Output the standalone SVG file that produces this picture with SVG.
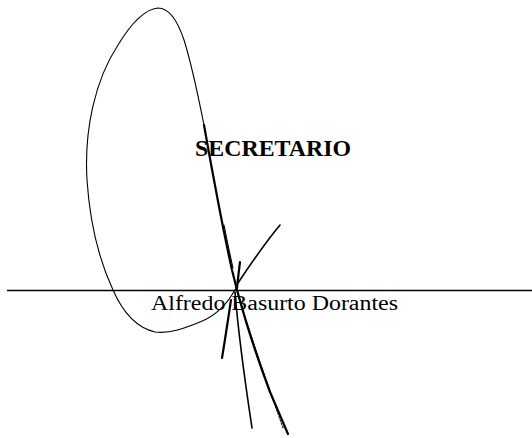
<svg xmlns="http://www.w3.org/2000/svg" width="532" height="438" viewBox="0 0 532 438">
<style>
.ink{fill:none;stroke:#000;stroke-linecap:round;stroke-linejoin:round}
.thin{stroke-width:1.1}
.mid{stroke-width:1.6}
.thick{stroke-width:2.2}
.dot{stroke-width:1;stroke-dasharray:2 1.5}
.title{font-family:"Liberation Serif","Times New Roman",serif;font-size:23.5px;font-weight:bold;fill:#000}
.name{font-family:"Liberation Serif","Times New Roman",serif;font-size:20px;fill:#000}
</style>
<rect width="532" height="438" fill="#fff"/>
<g id="signature">
<path class="ink thin" d="M236,288 C228,303 218,315 200,322 C185,328 170,334 155,332 C138,328 124,315 113,290 C100,262 90,225 87,180 C84,130 95,80 118,45 C132,22 146,9 158,8 C170,8 178,22 184,40 C192,65 198,95 204,125"/>
<path class="ink thick" d="M204,125 C212,170 222,225 232,270 L237,290 C245,320 258,360 270,392 L288,434"/>
<path class="ink dot" d="M240,300 C252,340 268,385 283,428"/>
<path class="ink mid" d="M235,292 C238,330 244,375 252,428"/>
<path class="ink thick" d="M231,300 C228,320 225,340 222,358"/>
<path class="ink thin" d="M224,225 C227,240 230,255 233,268"/>
<path class="ink mid" d="M238,283 C250,265 265,243 280,225"/>
<path class="ink thick" d="M240,262 C239,270 238,278 237,288"/>
</g>
<g id="signature-line">
<line x1="7" y1="290.5" x2="532" y2="290.5" stroke="#000" stroke-width="1.3"/>
</g>
<g id="title">
<text class="title" x="195" y="155.5" textLength="156" lengthAdjust="spacingAndGlyphs">SECRETARIO</text>
</g>
<g id="name">
<text class="name" x="151" y="310" textLength="247" lengthAdjust="spacingAndGlyphs">Alfredo Basurto Dorantes</text>
</g>
</svg>
